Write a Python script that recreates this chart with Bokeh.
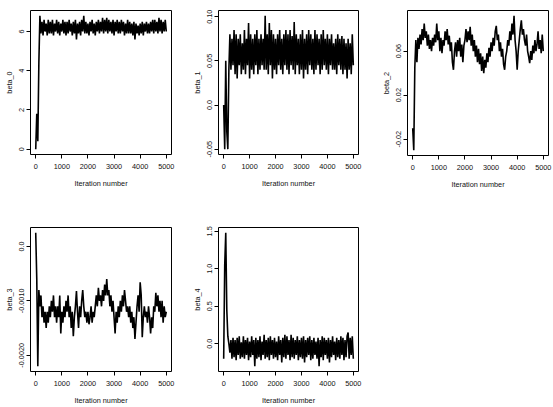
from bokeh.plotting import figure
from bokeh.layouts import column, row
from bokeh.models import Range1d, FixedTicker
from bokeh.embed import file_html
from bokeh.resources import INLINE

# Iteration numbers (thinned trace, every 40 iterations)
ITER = list(range(0, 5001, 40))

BETA_0 = [
    0.0, 1.8, 0.4, 4.4, 6.8, 5.9, 6.5, 5.8, 6.6, 6.0,
    6.4, 5.8, 6.6, 5.9, 6.5, 5.9, 6.6, 5.8, 6.4, 6.0,
    6.6, 5.9, 6.5, 5.8, 6.4, 6.0, 6.6, 5.9, 6.5, 5.8,
    6.5, 5.9, 6.6, 6.0, 6.4, 5.8, 6.5, 5.9, 6.6, 5.6,
    6.4, 5.9, 6.5, 5.8, 6.6, 6.0, 6.8, 5.9, 6.5, 5.9,
    6.4, 5.8, 6.5, 6.0, 6.6, 5.9, 6.4, 5.8, 6.5, 6.0,
    6.6, 5.9, 6.5, 6.0, 6.7, 5.9, 6.6, 6.0, 6.7, 5.9,
    6.6, 6.0, 6.5, 5.9, 6.6, 5.8, 6.5, 6.0, 6.6, 5.9,
    6.5, 5.9, 6.6, 6.0, 6.5, 5.8, 6.4, 5.9, 6.6, 5.9,
    6.5, 5.9, 6.4, 5.8, 6.5, 5.6, 6.4, 5.9, 6.3, 5.8,
    6.4, 5.9, 6.5, 5.8, 6.4, 6.0, 6.5, 5.9, 6.4, 5.9,
    6.5, 6.0, 6.6, 5.9, 6.6, 6.0, 6.5, 5.9, 6.7, 6.0,
    6.6, 5.9, 6.5, 6.0, 6.6, 6.0,
]

BETA_1 = [
    0.0, -0.05, 0.05, -0.03, -0.05, 0.04, 0.08, 0.04, 0.075, 0.045,
    0.085, 0.035, 0.08, 0.03, 0.075, 0.045, 0.08, 0.035, 0.07, 0.04,
    0.085, 0.035, 0.075, 0.045, 0.093, 0.03, 0.08, 0.04, 0.075, 0.035,
    0.08, 0.045, 0.085, 0.035, 0.075, 0.04, 0.08, 0.045, 0.075, 0.04,
    0.101, 0.04, 0.08, 0.035, 0.093, 0.045, 0.085, 0.03, 0.08, 0.04,
    0.075, 0.035, 0.08, 0.045, 0.085, 0.04, 0.075, 0.035, 0.08, 0.045,
    0.085, 0.04, 0.08, 0.035, 0.085, 0.045, 0.078, 0.04, 0.094, 0.035,
    0.08, 0.045, 0.075, 0.035, 0.08, 0.04, 0.085, 0.03, 0.075, 0.04,
    0.08, 0.035, 0.085, 0.045, 0.08, 0.04, 0.075, 0.035, 0.085, 0.04,
    0.08, 0.045, 0.075, 0.035, 0.08, 0.04, 0.085, 0.045, 0.075, 0.04,
    0.08, 0.035, 0.075, 0.045, 0.08, 0.04, 0.07, 0.04, 0.075, 0.035,
    0.08, 0.045, 0.075, 0.04, 0.078, 0.035, 0.075, 0.04, 0.07, 0.03,
    0.075, 0.04, 0.07, 0.035, 0.08, 0.045,
]

BETA_2 = [
    -0.01, -0.03, 0.045, 0.07, 0.05, 0.072, 0.062, 0.075, 0.066, 0.08,
    0.07, 0.085, 0.072, 0.078, 0.065, 0.075, 0.062, 0.07, 0.06, 0.072,
    0.065, 0.075, 0.068, 0.085, 0.07, 0.078, 0.06, 0.072, 0.058, 0.07,
    0.065, 0.078, 0.07, 0.08, 0.066, 0.074, 0.06, 0.068, 0.05, 0.043,
    0.06, 0.068, 0.055, 0.07, 0.06, 0.072, 0.055, 0.066, 0.05, 0.065,
    0.07, 0.08, 0.068, 0.078, 0.07, 0.082, 0.065, 0.075, 0.06, 0.07,
    0.055, 0.065, 0.05, 0.062, 0.048, 0.058, 0.042, 0.055, 0.04, 0.052,
    0.045, 0.058, 0.05, 0.063, 0.055, 0.068, 0.06, 0.072, 0.065, 0.078,
    0.083, 0.07, 0.075, 0.06, 0.068, 0.055, 0.062, 0.048, 0.043, 0.055,
    0.06, 0.07, 0.065, 0.078, 0.07, 0.085, 0.075, 0.092, 0.07, 0.06,
    0.043, 0.06, 0.07, 0.08, 0.088, 0.075, 0.08, 0.07, 0.065, 0.075,
    0.06, 0.055, 0.049, 0.06, 0.052, 0.065, 0.058, 0.07, 0.06, 0.066,
    0.078, 0.062, 0.07, 0.058, 0.075, 0.06,
]

BETA_3 = [
    0.00025, -0.0006, -0.0022, -0.0008, -0.0011, -0.0009, -0.0013, -0.0011, -0.0014, -0.0012,
    -0.0015, -0.0012, -0.0014, -0.0011, -0.0013, -0.0010, -0.0012, -0.0009, -0.0013, -0.0011,
    -0.0014, -0.0011, -0.0013, -0.0009, -0.0016, -0.0012, -0.0014, -0.0011, -0.0013, -0.0010,
    -0.0012, -0.0009, -0.0013, -0.0011, -0.0015, -0.0012, -0.00165, -0.0013, -0.0011, -0.00082,
    -0.0012, -0.0015, -0.0011, -0.0013, -0.0010, -0.0008, -0.0011, -0.0013, -0.0012, -0.0014,
    -0.0012, -0.00143, -0.0013, -0.0011, -0.0014, -0.0012, -0.0013, -0.0011, -0.0009, -0.0011,
    -0.00076, -0.0010, -0.0009, -0.0011, -0.0008, -0.0010, -0.0007, -0.0009, -0.0006, -0.0009,
    -0.0008, -0.0011, -0.0009, -0.0012, -0.0010, -0.0013, -0.0016, -0.0012, -0.0014, -0.0011,
    -0.0013, -0.0010, -0.0012, -0.0009, -0.0011, -0.0008, -0.0010, -0.0012, -0.0011, -0.0013,
    -0.0011, -0.0014, -0.0012, -0.0015, -0.0013, -0.0017, -0.0014, -0.0011, -0.0009, -0.0012,
    -0.00066, -0.0009, -0.00167, -0.0013, -0.0011, -0.0013, -0.0012, -0.0014, -0.0011, -0.0013,
    -0.0016, -0.0013, -0.0015, -0.0011, -0.0012, -0.00085, -0.0011, -0.0009, -0.0012, -0.0010,
    -0.0013, -0.0010, -0.0014, -0.0011, -0.0013, -0.0012,
]

BETA_4 = [
    -0.2, 1.05, 1.48, 0.45, 0.1, 0.0, -0.12, 0.05, -0.2, 0.08,
    -0.18, 0.05, -0.22, 0.08, -0.15, 0.1, -0.2, 0.02, -0.18, 0.1,
    -0.2, 0.05, -0.15, 0.08, -0.22, 0.03, -0.18, 0.1, -0.15, 0.05,
    -0.3, 0.08, -0.2, 0.05, -0.18, 0.1, -0.22, 0.03, -0.15, 0.12,
    -0.2, 0.05, -0.18, 0.08, -0.22, 0.1, -0.15, 0.05, -0.2, 0.08,
    -0.18, 0.03, -0.22, 0.1, -0.15, 0.05, -0.25, 0.08, -0.18, 0.12,
    -0.2, 0.1, -0.15, 0.05, -0.22, 0.12, -0.18, 0.08, -0.2, 0.05,
    -0.15, 0.1, -0.22, 0.05, -0.18, 0.08, -0.2, 0.1, -0.25, 0.05,
    -0.18, 0.08, -0.15, 0.1, -0.22, 0.05, -0.2, 0.08, -0.15, 0.03,
    -0.2, 0.08, -0.3, 0.05, -0.18, 0.1, -0.22, 0.08, -0.15, 0.05,
    -0.2, 0.08, -0.25, 0.05, -0.18, 0.1, -0.15, 0.03, -0.22, 0.08,
    -0.18, 0.05, -0.2, 0.1, -0.15, 0.08, -0.22, 0.05, -0.18, 0.1,
    0.15, -0.2, 0.08, -0.15, 0.1, -0.2,
]

X_TICKS = [0, 1000, 2000, 3000, 4000, 5000]
Y_TICKS = {
    "beta_0": ([0, 2, 4, 6], ["0", "2", "4", "6"]),
    "beta_1": ([-0.05, 0.0, 0.05, 0.10], ["-0.05", "0.0", "0.05", "0.10"]),
    "beta_2": ([-0.02, 0.02, 0.06], ["-0.02", "0.02", "0.06"]),
    "beta_3": ([-0.002, -0.001, 0.0], ["-0.0020", "-0.0010", "0.0"]),
    "beta_4": ([0.0, 0.5, 1.0, 1.5], ["0.0", "0.5", "1.0", "1.5"]),
}

FONT = "Liberation Sans"
FS = "7.3px"


def r_range(vals):
    lo, hi = min(vals), max(vals)
    pad = 0.04 * (hi - lo)
    return Range1d(lo - pad, hi + pad)


def panel(y, name, fw, fh, bl, br, bt, bb):
    xr = r_range(ITER)
    p = figure(frame_width=fw, frame_height=fh,
               min_border_left=bl, min_border_right=br,
               min_border_top=bt, min_border_bottom=bb,
               x_range=xr, y_range=r_range(y),
               output_backend="svg", toolbar_location=None,
               background_fill_color="white", border_fill_color="white")
    p.line(ITER, y, line_color="black", line_width=1.6)
    p.outline_line_color = "black"
    p.outline_line_width = 1
    p.xgrid.visible = False
    p.ygrid.visible = False
    ticks, labels = Y_TICKS[name]
    p.xaxis.ticker = FixedTicker(ticks=X_TICKS)
    p.yaxis.ticker = FixedTicker(ticks=ticks)
    p.yaxis.major_label_overrides = {t: l for t, l in zip(ticks, labels)}
    p.xaxis.axis_label = "Iteration number"
    p.yaxis.axis_label = name
    p.yaxis.major_label_orientation = "parallel"
    for ax in (p.xaxis[0], p.yaxis[0]):
        ax.axis_line_color = None
        ax.major_tick_line_color = "black"
        ax.major_tick_out = 4
        ax.major_tick_in = 0
        ax.minor_tick_line_color = None
        ax.major_label_text_font = FONT
        ax.major_label_text_font_size = FS
        ax.major_label_text_color = "#111111"
        ax.major_label_text_line_height = 0.9
        ax.axis_label_text_font = FONT
        ax.axis_label_text_font_size = FS
        ax.axis_label_text_font_style = "normal"
        ax.axis_label_text_color = "#111111"
        ax.axis_label_text_line_height = 0.9
    p.xaxis.major_label_standoff = 5
    p.xaxis.axis_label_standoff = 7
    p.yaxis.major_label_standoff = 2
    p.yaxis.axis_label_standoff = 3
    return p


p1 = panel(BETA_0, "beta_0", 141, 144, 30, 17, 10, 63)
p2 = panel(BETA_1, "beta_1", 140, 144, 30, 19, 10, 63)
p3 = panel(BETA_2, "beta_2", 141, 145, 30, 5, 9, 63)
p4 = panel(BETA_3, "beta_3", 141, 144, 30, 17, 10, 36)
p5 = panel(BETA_4, "beta_4", 140, 144, 30, 19, 10, 36)

layout = column(row(p1, p2, p3), row(p4, p5))
open("out.html", "w").write(file_html(layout, INLINE))
